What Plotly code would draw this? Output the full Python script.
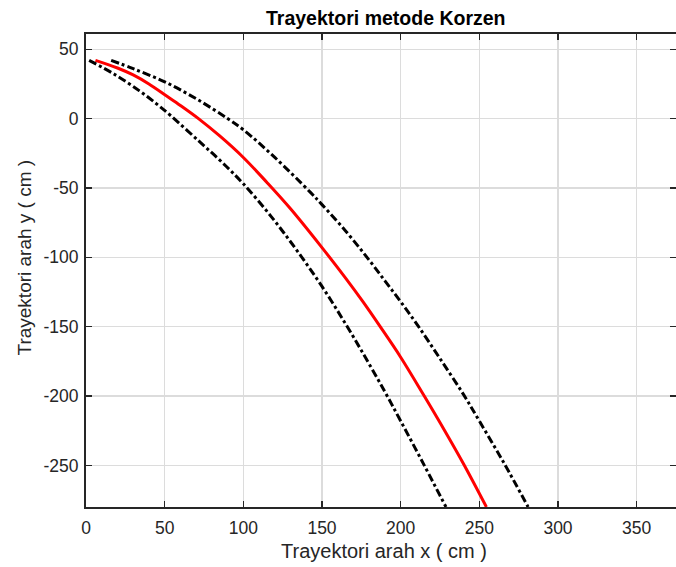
import plotly.graph_objects as go

# ---- data ----
x_mid = [6, 20, 30, 40, 51, 60, 71.5, 85, 100, 115, 130, 150, 165, 176, 187, 200, 215, 228, 240, 254.5]
y_mid = [42, 36.5, 31.5, 25, 16.5, 9.5, 0, -12.5, -28, -46, -65, -93, -115, -132, -150, -172, -200, -225, -249, -280]

x_low = [2, 18, 34, 45, 54, 72.5, 86, 100, 118, 134, 150, 165, 178, 190, 200, 215, 228.8]
y_low = [42, 32, 20, 10.5, 2, -17, -31, -47, -71, -95, -121, -148, -173, -197, -218, -250, -280]

x_up = [16, 30, 51, 72, 90, 100, 120, 142.5, 150, 165, 178.6, 190, 200, 211.4, 225, 240, 250, 266, 281]
y_up = [42, 36, 26, 13, 0, -8, -28, -53, -62, -81, -100, -117, -132, -150, -173, -199, -218, -249, -280]

x_ticks = [0, 50, 100, 150, 200, 250, 300, 350]
x_tick_text = ["0", "50", "100", "150", "200", "250", "300", "350"]
y_ticks = [50, 0, -50, -100, -150, -200, -250]
y_tick_text = ["50", "0", "-50", "-100", "-150", "-200", "-250"]

title_text = "Trayektori metode Korzen"
x_label = "Trayektori arah x ( cm )"
y_label = "Trayektori arah y ( cm )"

FONT = "Liberation Sans, Arial, Helvetica, sans-serif"
AX = "#262626"
GRID = "#dcdcdc"
DASHDOT = "8px,3px,3px,3px"
W, H = 676, 567
L, R, T, B = 86, 0, 34, 60
PW, PH = W - L - R, H - T - B

fig = go.Figure()
fig.add_trace(go.Scatter(x=x_mid, y=y_mid, mode="lines",
                         line=dict(color="#ff0000", width=3, shape="spline", smoothing=1.0),
                         showlegend=False, hoverinfo="skip"))
fig.add_trace(go.Scatter(x=x_low, y=y_low, mode="lines",
                         line=dict(color="#000000", width=3, dash=DASHDOT, shape="spline", smoothing=1.0),
                         showlegend=False, hoverinfo="skip"))
fig.add_trace(go.Scatter(x=x_up, y=y_up, mode="lines",
                         line=dict(color="#000000", width=3, dash=DASHDOT, shape="spline", smoothing=1.0),
                         showlegend=False, hoverinfo="skip"))

axis_common = dict(
    showline=True, linecolor=AX, linewidth=2, mirror="ticks",
    ticks="inside", ticklen=6, tickwidth=1.5, tickcolor=AX,
    showgrid=True, gridcolor=GRID, gridwidth=1.3, zeroline=False,
    tickfont=dict(family=FONT, size=17.5, color=AX),
    automargin=False,
)

# pixel position in the figure -> paper coordinates (relative to the plot area)
def px_x(p):
    return (p - L) / PW

def px_y(p):
    return (H - B - p) / PH

fig.update_layout(
    width=W, height=H,
    margin=dict(l=L, r=R, t=T, b=B, autoexpand=False),
    paper_bgcolor="white", plot_bgcolor="white",
    xaxis=dict(range=[0, 375], tickmode="array", tickvals=x_ticks, ticktext=x_tick_text,
               ticklabelstandoff=4, **axis_common),
    yaxis=dict(range=[-280, 61], tickmode="array", tickvals=y_ticks, ticktext=y_tick_text,
               ticklabelstandoff=2, **axis_common),
    annotations=[
        dict(text="<b>" + title_text + "</b>", xref="paper", yref="paper",
             x=px_x(385), y=px_y(18), xanchor="center", yanchor="middle", showarrow=False,
             font=dict(family=FONT, size=19.5, color="#000000")),
        dict(text=x_label, xref="paper", yref="paper",
             x=px_x(384), y=px_y(551), xanchor="center", yanchor="middle", showarrow=False,
             font=dict(family=FONT, size=20, color=AX)),
        dict(text=y_label, xref="paper", yref="paper", textangle=-90,
             x=px_x(24), y=px_y(257.5), xanchor="center", yanchor="middle", showarrow=False,
             font=dict(family=FONT, size=19, color=AX)),
    ],
)

fig.write_html("out.html",
               config={"displayModeBar": False, "staticPlot": True},
               post_script="document.body.style.margin='0';document.body.style.overflow='hidden';")
